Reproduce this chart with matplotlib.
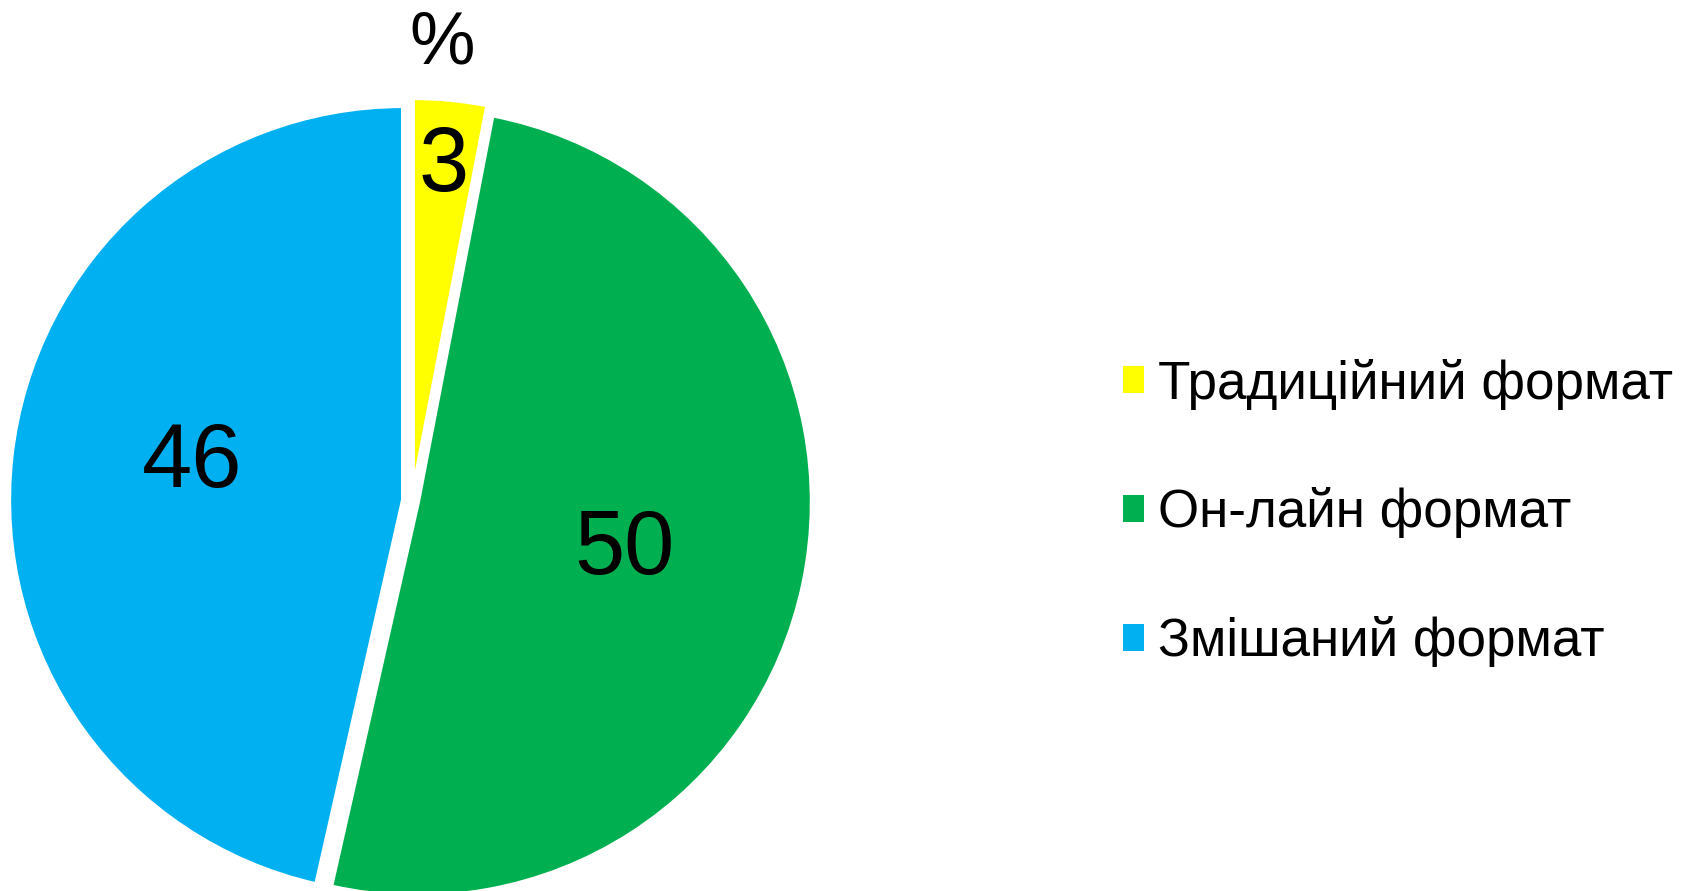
import math
import matplotlib
matplotlib.use("Agg")
import matplotlib.pyplot as plt
from matplotlib.patches import Patch

plt.rcParams['font.family'] = ['Liberation Sans', 'DejaVu Sans']

# data
categories = ['Традиційний формат', 'Он-лайн формат', 'Змішаний формат']
values = [3, 50, 46]
colors = ['#FFFF00', '#00AF50', '#00B0F0']
unit_label = '%'

W, H = 1691, 891
fig = plt.figure(figsize=(W / 100, H / 100), dpi=100)
ax = fig.add_axes([0, 0, 1, 1])

# pie in pixel coordinates (y measured from bottom)
cx, cy = 412, H - 501
radius = 394
wedges, _ = ax.pie(values, colors=colors, startangle=90, counterclock=False,
                   center=(cx, cy), radius=radius, explode=[9, 6, 9],
                   wedgeprops=dict(edgecolor='white', linewidth=3))
ax.set_xlim(0, W)
ax.set_ylim(0, H)
ax.set_aspect('equal')
ax.axis('off')

# value labels inside the slices (distance from centre, angle nudge in degrees)
label_dist = [0.85, 0.555, 0.566]
label_nudge = [0, -1.2, -3.2]
for w, v, d, n in zip(wedges, values, label_dist, label_nudge):
    th = math.radians((w.theta1 + w.theta2) / 2 + n)
    ax.text(cx + d * radius * math.cos(th), cy + d * radius * math.sin(th), str(v),
            ha='center', va='center', fontsize=65)

# "%" caption above the pie
ax.text(cx + 30, H - 44, unit_label, ha='center', va='center', fontsize=53)

handles = [Patch(facecolor=c) for c in colors]
fig.legend(handles, categories, loc='center left', bbox_to_anchor=(1096 / W, 1 - 513 / H),
           frameon=False, fontsize=38.2, handlelength=0.4, handleheight=0.4,
           handletextpad=0.26, labelspacing=1.47, borderpad=0)

fig.savefig('out.png', dpi=100)
